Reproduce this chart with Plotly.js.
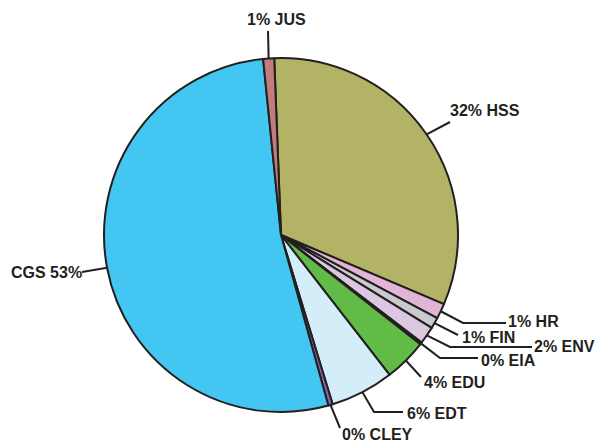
<!DOCTYPE html>
<html>
<head>
<meta charset="utf-8">
<script src="https://cdn.plot.ly/plotly-3.0.1.min.js"></script>
<style>html,body{margin:0;padding:0;background:#fff;}#chart{width:595px;height:444px;}</style>
</head>
<body>
<div id="chart"></div>
<script>
// ---- data ----
var categories = ['HSS', 'HR', 'FIN', 'ENV', 'EIA', 'EDU', 'EDT', 'CLEY', 'CGS', 'JUS'];
var values     = [32.0, 1.4, 1.0, 1.6, 0.2, 3.9, 5.8, 0.4, 52.7, 1.0];
var colors     = ['#b3b366', '#e2b4d5', '#c8cacb', '#dcc7e1', '#231f20', '#61bb46', '#d4eef9', '#8c64ad', '#43c6f2', '#c27c7e'];

// ---- layout constants (pixels) ----
var W = 595, H = 444;
var CX = 281, CY = 235, R = 177;
var ROT = -2.2; // start angle of first slice, clockwise from 12 o'clock
var INK = '#231f20';
var FONT = 'Liberation Sans, Arial, Helvetica, sans-serif';

// label placement: leader path waypoints after the slice edge, text anchor point
var labelLayout = {
  HSS:  {pts: [[450,122]],            tx: 449, ty: 110, xa: 'left'},
  HR:   {pts: [[463,323],[506,323]],  tx: 507, ty: 321, xa: 'left'},
  FIN:  {pts: [[458,335]],            tx: 461, ty: 337, xa: 'left'},
  ENV:  {pts: [[450,347],[532,347]],  tx: 533, ty: 346, xa: 'left'},
  EIA:  {pts: [[440,358],[478,358]],  tx: 480, ty: 360, xa: 'left'},
  EDU:  {pts: [[421,377]],            tx: 423, ty: 382, xa: 'left'},
  EDT:  {pts: [[374,412],[403,412]],  tx: 406, ty: 413, xa: 'left'},
  CLEY: {pts: [[340,428]],            tx: 341, ty: 434, xa: 'left'},
  CGS:  {pts: [[82,272]],             tx: 83,  ty: 272, xa: 'right'},
  JUS:  {pts: [[268,31]],             tx: 276, ty: 20,  xa: 'center'}
};

function px(x) { return x / W; }
function py(y) { return 1 - y / H; }

var total = values.reduce(function (a, b) { return a + b; }, 0);
var shapes = [], annotations = [];
var cum = 0;
categories.forEach(function (c, i) {
  var mid = ROT + (cum + values[i] / 2) / total * 360;
  cum += values[i];
  var a = mid * Math.PI / 180;
  var sx = CX + R * Math.sin(a), sy = CY - R * Math.cos(a);
  var L = labelLayout[c];
  var path = 'M ' + px(sx) + ' ' + py(sy);
  L.pts.forEach(function (p) { path += ' L ' + px(p[0]) + ' ' + py(p[1]); });
  shapes.push({type: 'path', xref: 'paper', yref: 'paper', path: path,
               line: {color: INK, width: 2}});
  var pct = Math.round(values[i] / total * 100) + '%';
  var txt = (c === 'CGS') ? (c + ' ' + pct) : (pct + ' ' + c);
  annotations.push({xref: 'paper', yref: 'paper', x: px(L.tx), y: py(L.ty),
    xanchor: L.xa, yanchor: 'middle', showarrow: false, borderpad: 0,
    text: '<b>' + txt + '</b>', font: {family: FONT, size: 16, color: INK}});
});

var trace = {
  type: 'pie',
  labels: categories,
  values: values,
  sort: false,
  direction: 'clockwise',
  rotation: ROT,
  textinfo: 'none',
  hoverinfo: 'label+percent',
  marker: {colors: colors, line: {color: INK, width: 2}},
  domain: {x: [px(CX - R), px(CX + R)], y: [py(CY + R), py(CY - R)]}
};

var layout = {
  width: W, height: H,
  margin: {l: 0, r: 0, t: 0, b: 0},
  paper_bgcolor: '#ffffff',
  showlegend: false,
  shapes: shapes,
  annotations: annotations
};

Plotly.newPlot('chart', [trace], layout, {displayModeBar: false, staticPlot: true});
</script>
</body>
</html>
